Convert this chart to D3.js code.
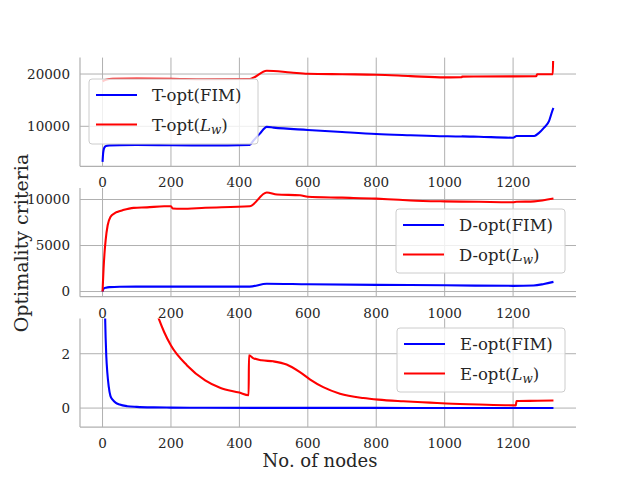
<!DOCTYPE html>
<html>
<head>
<meta charset="utf-8">
<script src="https://cdn.jsdelivr.net/npm/d3@7"></script>
<style>
  body { margin: 0; background: #fff; }
</style>
</head>
<body>
<script>
// x ticks shared by all panels
var xTicks = [0, 200, 400, 600, 800, 1000, 1200];

// T-opt
var tFimX = [0, 2, 5, 10, 20, 50, 100, 200, 300, 430, 440, 460, 480, 500, 600, 700, 800, 900, 1000, 1050, 1051, 1100, 1200, 1210, 1262, 1275, 1290, 1305, 1316, 1318];
var tFimY = [3200, 5000, 5900, 6250, 6350, 6400, 6420, 6380, 6350, 6450, 7200, 8600, 9900, 9750, 9300, 8900, 8530, 8300, 8100, 8050, 8080, 8000, 7820, 8150, 8150, 8700, 9700, 11000, 13200, 13500];
var tLwX = [0, 10, 30, 100, 200, 300, 430, 480, 550, 600, 700, 800, 900, 1000, 1050, 1051, 1200, 1268, 1270, 1316, 1317];
var tLwY = [18600, 18900, 19100, 19150, 19100, 19000, 19050, 20630, 20300, 20050, 19950, 19870, 19600, 19350, 19380, 19500, 19550, 19580, 19960, 19960, 22500];

// D-opt
var dFimX = [0, 3, 10, 20, 50, 100, 200, 300, 430, 480, 600, 800, 1000, 1200, 1260, 1290, 1318];
var dFimY = [0, 300, 420, 480, 520, 530, 530, 530, 540, 850, 790, 730, 680, 620, 650, 820, 1050];
var dLwX = [0, 3, 6, 9, 15, 23, 35, 43, 60, 91, 130, 180, 200, 205, 230, 300, 430, 480, 510, 577, 600, 700, 800, 850, 900, 1000, 1100, 1200, 1210, 1262, 1318];
var dLwY = [0, 2500, 4300, 5570, 7200, 8100, 8500, 8650, 8850, 9090, 9150, 9270, 9270, 9020, 8990, 9100, 9270, 10760, 10540, 10470, 10300, 10200, 10100, 10000, 9900, 9800, 9750, 9700, 9750, 9800, 10100];

// E-opt
var eFimX = [3, 5, 7, 9, 11, 14, 18, 23, 30, 38, 50, 72, 100, 150, 200, 300, 500, 800, 1000, 1318];
var eFimY = [8, 5, 3.6, 2.6, 1.9, 1.3, 0.8, 0.45, 0.3, 0.2, 0.13, 0.07, 0.045, 0.025, 0.018, 0.012, 0.008, 0.006, 0.005, 0.004];
var eLwX = [150, 164, 180, 200, 247, 300, 345, 400, 427, 428, 440, 465, 499, 538, 577, 607, 645, 694, 762, 806, 879, 957, 1005, 1100, 1208, 1210, 1272, 1318];
var eLwY = [3.8, 3.3, 2.8, 2.3, 1.57, 1.02, 0.74, 0.57, 0.47, 1.94, 1.84, 1.76, 1.72, 1.6, 1.32, 1.05, 0.77, 0.53, 0.37, 0.31, 0.25, 0.2, 0.17, 0.13, 0.1, 0.26, 0.27, 0.28];

var width = 639;
var height = 479;
var left = 80, right = 576;
var panelH = 108.7;
var gridColor = '#b0b0b0';
var serif = 'DejaVu Serif';

var svg = d3.select('body').append('svg')
    .attr('width', width)
    .attr('height', height)
    .attr('font-family', serif);

var x = d3.scaleLinear().domain([-65.9, 1383.9]).range([left, right]);

function zip(xs, ys) {
  return xs.map(function(d, i) { return [d, ys[i]]; });
}

var panels = [
  { top: 57.6, domain: [2350, 23140], ticks: [10000, 20000], name: 'T',
    fim: zip(tFimX, tFimY), lw: zip(tLwX, tLwY),
    legend: { x: 89, y: 79, w: 169, h: 65 } },
  { top: 188, domain: [-560, 11250], ticks: [0, 5000, 10000], name: 'D',
    fim: zip(dFimX, dFimY), lw: zip(dLwX, dLwY),
    legend: { x: 396, y: 209, w: 169, h: 64 } },
  { top: 318.4, domain: [-0.7, 3.3], ticks: [0, 2], name: 'E',
    fim: zip(eFimX, eFimY), lw: zip(eLwX, eLwY),
    legend: { x: 397, y: 328, w: 168, h: 64 } }
];

panels.forEach(function(p, k) {
  var bottom = p.top + panelH;
  var y = d3.scaleLinear().domain(p.domain).range([bottom, p.top]);
  var g = svg.append('g');

  g.append('clipPath').attr('id', 'clip' + k)
    .append('rect')
    .attr('x', left).attr('y', p.top)
    .attr('width', right - left).attr('height', panelH);

  // grid
  g.selectAll('.vg').data(xTicks).enter().append('line')
    .attr('x1', function(d) { return x(d); })
    .attr('x2', function(d) { return x(d); })
    .attr('y1', p.top).attr('y2', bottom)
    .attr('stroke', gridColor).attr('stroke-width', 1);
  g.selectAll('.hg').data(p.ticks).enter().append('line')
    .attr('x1', left).attr('x2', right)
    .attr('y1', function(d) { return y(d); })
    .attr('y2', function(d) { return y(d); })
    .attr('stroke', gridColor).attr('stroke-width', 1);

  // spines
  g.append('line').attr('x1', left).attr('x2', left)
    .attr('y1', p.top).attr('y2', bottom)
    .attr('stroke', gridColor).attr('stroke-width', 1.2);
  g.append('line').attr('x1', left).attr('x2', right)
    .attr('y1', bottom).attr('y2', bottom)
    .attr('stroke', gridColor).attr('stroke-width', 1.2);

  // tick labels
  g.selectAll('.xt').data(xTicks).enter().append('text')
    .attr('x', function(d) { return x(d); })
    .attr('y', bottom + 21)
    .attr('text-anchor', 'middle')
    .attr('font-size', 13.5)
    .attr('fill', '#262626')
    .text(function(d) { return d; });
  g.selectAll('.yt').data(p.ticks).enter().append('text')
    .attr('x', left - 10)
    .attr('y', function(d) { return y(d); })
    .attr('dy', '0.36em')
    .attr('text-anchor', 'end')
    .attr('font-size', 13.5)
    .attr('fill', '#262626')
    .text(function(d) { return d; });

  var line = d3.line()
    .x(function(d) { return x(d[0]); })
    .y(function(d) { return y(d[1]); })
    .curve(d3.curveMonotoneX);

  var lines = g.append('g').attr('clip-path', 'url(#clip' + k + ')');
  lines.append('path').datum(p.fim)
    .attr('d', line).attr('fill', 'none')
    .attr('stroke', '#0000ff').attr('stroke-width', 2.1);
  lines.append('path').datum(p.lw)
    .attr('d', line).attr('fill', 'none')
    .attr('stroke', '#ff0000').attr('stroke-width', 2.1);

  // legend
  var L = p.legend;
  var lg = g.append('g');
  lg.append('rect')
    .attr('x', L.x).attr('y', L.y)
    .attr('width', L.w).attr('height', L.h)
    .attr('rx', 3)
    .attr('fill', '#fff').attr('fill-opacity', 0.8)
    .attr('stroke', '#cccccc').attr('stroke-width', 1);
  var rows = [{ c: '#0000ff', sub: false }, { c: '#ff0000', sub: true }];
  rows.forEach(function(r, i) {
    var ry = L.y + 16 + i * 29.5;
    lg.append('line')
      .attr('x1', L.x + 7).attr('x2', L.x + 48)
      .attr('y1', ry).attr('y2', ry)
      .attr('stroke', r.c).attr('stroke-width', 2.1);
    var t = lg.append('text')
      .attr('x', L.x + 63).attr('y', ry + 6)
      .attr('font-size', 16.5)
      .attr('fill', '#262626');
    if (!r.sub) {
      t.text(p.name + '-opt(FIM)');
    } else {
      t.append('tspan').text(p.name + '-opt(');
      t.append('tspan').attr('font-style', 'italic').text('L');
      t.append('tspan').attr('font-style', 'italic').attr('font-size', 12)
        .attr('dy', 3).text('w');
      t.append('tspan').attr('dy', -3).text(')');
    }
  });
});

// shared axis labels
svg.append('text')
  .attr('x', 320).attr('y', 467)
  .attr('text-anchor', 'middle')
  .attr('font-size', 18)
  .attr('fill', '#262626')
  .text('No. of nodes');

svg.append('text')
  .attr('transform', 'translate(28,243) rotate(-90)')
  .attr('text-anchor', 'middle')
  .attr('font-size', 19)
  .attr('fill', '#262626')
  .text('Optimality criteria');
</script>
</body>
</html>
